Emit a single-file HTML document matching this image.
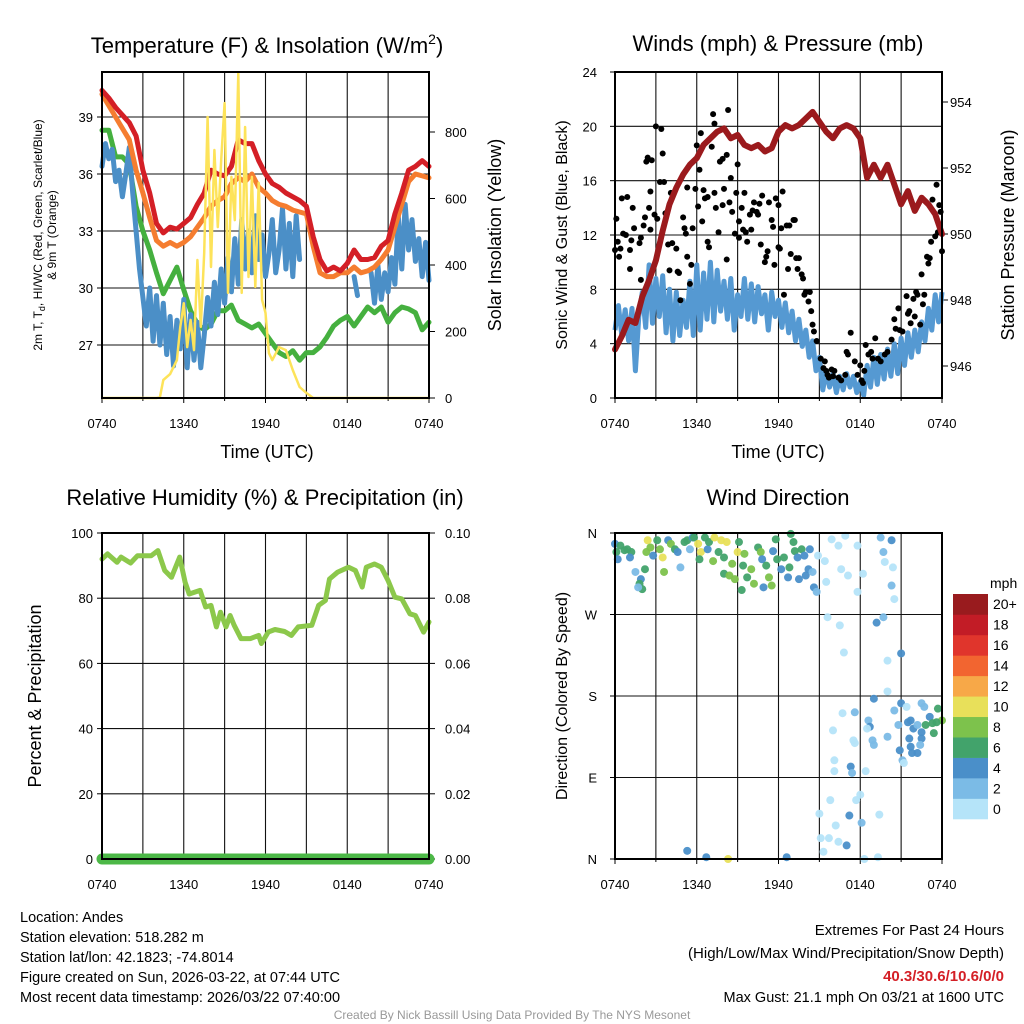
<!DOCTYPE html>
<html><head><meta charset="utf-8"><style>
html,body{margin:0;padding:0;background:#fff;}
svg{display:block;font-family:"Liberation Sans",Arial,sans-serif;}
</style></head><body>
<svg id="fig" width="1024" height="1024" viewBox="0 0 1024 1024"></svg>
<script>
// ---------- DATA ----------
const xTickLabels = ["0740","1340","1940","0140","0740"];
const tempHours = [0,0.5,1,1.5,2,2.5,3,3.5,4,4.5,5,5.5,6,6.5,7,7.5,8,8.5,9,9.5,10,10.5,11,11.5,12,12.5,13,13.5,14,14.5,15,15.5,16,16.5,17,17.5,18,18.5,19,19.5,20,20.5,21,21.5,22,22.5,23,23.5,24];
const tempRed = [40.4,40.0,39.5,39.1,38.7,38.0,36.2,35.0,33.4,32.9,33.2,33.1,33.4,33.7,34.4,35.0,36.2,36.0,35.9,36.4,37.8,37.6,37.6,36.7,36.0,35.5,35.3,35.0,34.8,34.6,34.3,32.7,31.5,30.9,31.1,30.9,31.3,32.0,31.5,31.5,31.6,32.2,32.5,33.9,35.0,36.2,36.4,36.7,36.4];
const tempOrange = [40.2,39.6,39.0,38.4,37.8,36.2,35.0,33.7,32.5,32.2,32.4,32.2,32.4,32.7,33.2,33.7,34.3,34.6,34.8,35.5,35.8,35.6,36.0,35.3,35.0,34.6,34.4,34.3,34.1,34.0,33.9,32.2,30.8,30.6,30.6,30.8,30.8,31.1,30.8,30.9,31.1,31.5,32.0,33.2,34.4,35.6,36.0,35.9,35.8];
const tempGreen = [38.3,38.3,36.9,36.9,36.5,34.3,33.0,32.0,30.8,29.7,30.4,31.1,29.9,28.8,28.1,27.8,28.1,28.8,28.8,29.1,28.3,28.1,27.9,28.1,27.6,27.1,26.6,26.4,26.7,26.2,26.6,26.6,26.9,27.4,28.0,28.3,28.5,28.0,28.5,29.0,28.7,29.0,28.2,28.7,29.0,28.9,28.7,27.8,28.2];
const quarterHours = [0,0.25,0.5,0.75,1,1.25,1.5,1.75,2,2.25,2.5,2.75,3,3.25,3.5,3.75,4,4.25,4.5,4.75,5,5.25,5.5,5.75,6,6.25,6.5,6.75,7,7.25,7.5,7.75,8,8.25,8.5,8.75,9,9.25,9.5,9.75,10,10.25,10.5,10.75,11,11.25,11.5,11.75,12,12.25,12.5,12.75,13,13.25,13.5,13.75,14,14.25,14.5,14.75,15,15.25,15.5,15.75,16,16.25,16.5,16.75,17,17.25,17.5,17.75,18,18.25,18.5,18.75,19,19.25,19.5,19.75,20,20.25,20.5,20.75,21,21.25,21.5,21.75,22,22.25,22.5,22.75,23,23.25,23.5,23.75,24];
const tempBlue = [36.4,37.6,36.8,37.3,35.6,36.2,34.8,36.0,37.4,35.0,33.0,31.0,29.5,28.0,30.0,27.2,29.6,27.0,29.2,26.5,28.5,25.9,28.3,26.8,29.4,25.8,28.6,26.2,28.2,25.8,27.5,29.5,28.0,30.3,28.6,31.0,29.2,31.6,29.8,32.6,30.2,33.6,31.0,33.0,30.8,33.8,31.5,32.8,30.6,31.8,33.6,30.8,32.0,34.2,31.0,33.4,30.6,33.8,31.5,null,null,null,null,null,null,null,null,null,null,null,null,null,null,null,30.6,29.6,null,null,null,30.8,29.2,31.2,29.4,30.8,29.8,31.6,30.2,33.8,31.0,34.4,32.0,33.6,31.4,32.6,30.6,32.4,30.4];
const solarHours = [0,4,4.25,4.5,5,5.5,5.75,6,6.25,6.5,6.75,7,7.25,7.5,7.75,8,8.25,8.5,8.75,9,9.25,9.5,9.75,10,10.25,10.5,10.75,11,11.25,11.5,11.75,12,12.25,12.5,13,13.5,14,14.5,15,15.5,24];
const solarValues = [0,0,2,54,72,114,214,285,153,235,144,415,214,436,845,394,746,514,716,887,316,665,535,977,316,815,364,665,334,647,295,256,135,114,153,144,84,33,15,0,0];
const p1LeftTicks = [27,30,33,36,39];
const p1RightTicks = [0,200,400,600,800];

const windHours = tempHours;
const sonicWind = [5.0,6.8,4.6,6.5,4.2,6.6,2.0,6.0,7.8,5.2,9.8,5.5,8.8,6.0,9.0,4.8,8.0,4.2,7.8,4.6,7.2,5.2,8.6,4.6,9.8,5.0,9.2,5.8,10.0,5.6,9.4,6.4,8.6,5.8,8.8,5.0,7.6,6.0,8.8,5.8,8.4,5.6,8.2,6.2,7.6,5.0,7.8,6.0,7.2,5.2,7.0,4.8,6.4,4.2,5.8,3.8,5.0,3.0,4.2,2.0,3.0,0.6,2.0,0.8,1.8,0.4,1.6,0.6,1.8,0.8,1.6,0.4,1.2,0.2,2.4,0.8,3.0,1.0,3.2,1.4,3.6,1.6,4.0,1.8,4.4,2.4,4.8,3.0,5.0,3.4,5.6,4.2,6.6,5.0,7.6,5.6,7.8];
const pressure = [946.5,946.9,947.4,947.3,948.1,948.6,949.2,950.1,950.9,951.4,951.8,952.1,952.3,952.7,952.9,953.1,953.2,952.9,953.0,952.7,952.6,952.7,952.5,952.6,953.1,953.3,953.2,953.3,953.5,953.7,953.4,953.1,952.9,953.2,953.3,953.2,952.9,951.7,952.1,951.7,952.1,951.5,950.9,951.3,950.7,951.1,950.9,950.6,950.0];
const gustHours = [0.0,0.1,0.2,0.3,0.4,0.5,0.9,0.6,0.8,1.1,1.2,1.1,1.3,1.4,1.8,1.9,1.9,2.1,2.2,2.3,2.4,2.6,2.6,2.7,2.5,2.9,3.0,3.1,3.3,3.4,3.5,3.6,3.7,3.9,4.0,4.1,4.2,4.5,4.6,4.7,4.8,5.0,5.1,5.2,5.3,5.3,5.5,5.6,5.7,5.9,6.0,6.1,6.2,6.3,6.4,6.5,6.6,6.8,6.8,6.9,7.1,7.2,7.3,7.3,7.4,7.6,7.7,7.9,7.9,8.0,8.2,8.2,8.3,8.4,8.5,8.6,8.8,8.9,9.0,9.1,9.1,9.3,9.4,9.5,9.6,9.7,9.9,10.0,10.1,10.2,10.4,10.5,10.6,10.7,10.8,11.0,11.1,11.2,11.3,11.5,11.6,11.7,11.8,12.0,12.0,12.1,12.2,12.3,12.4,12.6,12.7,12.8,12.9,13.1,13.2,13.3,13.4,13.5,13.7,13.8,13.9,14.0,14.2,14.3,14.4,14.5,14.6,14.8,15.1,15.3,15.4,15.5,15.6,15.7,15.9,16.0,16.1,16.4,16.6,16.9,17.0,17.1,17.3,17.6,17.8,18.0,18.1,18.2,18.3,18.4,18.6,18.8,18.9,19.1,19.3,19.5,19.8,20.0,20.3,20.5,20.6,20.8,20.9,21.1,21.4,21.5,21.6,21.7,21.9,22.0,22.1,22.2,22.4,22.5,22.6,22.7,22.9,23.0,23.1,23.2,23.3,23.5,23.6,23.7,23.8,23.9,24.0];
const gustValues = [10.9,13.2,11.5,10.4,11.0,14.7,14.8,12.1,12.0,10.9,11.6,9.5,14.0,12.5,11.4,11.8,8.7,12.7,13.3,17.4,17.7,12.4,15.2,17.5,14.0,13.5,20.0,13.2,15.9,19.8,18.0,15.9,13.6,11.3,9.4,15.1,11.4,11.0,9.3,9.2,7.2,13.3,12.5,12.1,10.4,15.5,8.4,9.8,12.5,15.4,18.6,14.1,16.8,19.5,13.0,15.3,14.7,11.5,14.8,11.1,18.5,20.9,15.1,20.2,14.0,12.2,17.4,17.6,14.2,15.4,17.9,10.2,21.2,14.4,16.2,13.7,12.1,15.1,17.2,11.8,13.0,14.0,12.4,15.1,12.2,11.5,13.5,12.4,13.8,14.4,13.7,13.5,14.3,11.3,14.9,10.0,10.4,10.8,14.4,13.1,12.6,9.8,14.7,14.2,11.1,11.0,12.5,15.2,7.6,12.7,9.5,12.7,10.6,13.1,13.1,10.3,9.5,10.3,9.1,8.8,7.6,7.8,7.1,7.8,6.4,5.4,4.9,4.2,2.9,2.2,2.7,2.0,1.7,1.5,2.1,1.6,2.0,1.5,1.3,1.7,3.4,3.2,4.8,2.7,1.7,2.4,1.3,1.1,2.0,3.9,3.2,3.4,2.9,4.4,2.9,2.7,3.2,3.4,4.3,5.8,5.1,6.6,5.0,4.9,7.5,6.2,6.4,5.5,7.3,6.0,7.8,7.6,5.4,9.1,6.9,7.6,10.4,9.9,10.3,11.5,14.6,11.9,15.7,12.2,14.2,13.7,10.8];
const p2LeftTicks = [0,4,8,12,16,20,24];
const p2RightTicks = [946,948,950,952,954];

const rhHours = [0.0,0.4,1.1,1.4,2.1,2.6,3.6,4.1,4.6,5.1,5.7,6.1,6.4,7.2,7.6,8.0,8.4,8.7,9.1,9.4,9.7,10.2,10.9,11.5,11.7,12.2,12.7,13.4,13.9,14.4,15.4,15.9,16.4,16.7,17.3,18.1,18.6,19.1,19.4,20.0,20.5,21.0,21.5,22.0,22.6,23.0,23.6,24.0];
const rhValues = [92.0,93.6,91.0,92.6,90.8,93.0,93.0,94.6,88.5,86.4,92.6,84.9,81.3,82.4,77.3,77.8,71.2,75.7,71.2,74.7,71.7,67.6,67.6,68.6,66.1,69.6,70.4,69.8,68.6,71.2,71.7,77.8,79.3,85.9,88.0,89.5,88.5,83.4,89.5,90.5,89.5,85.4,80.3,79.8,75.2,74.7,69.6,72.7];
const precipHours = [0,24];
const precipValues = [0,0];
const p3LeftTicks = [0,20,40,60,80,100];
const p3RightTicks = ["0.00","0.02","0.04","0.06","0.08","0.10"];

const dirHours = [0,0.1,0.2,0.4,0.7,0.9,1.2,1.1,1.5,1.9,1.8,2.0,1.7,2.2,2.3,2.4,2.6,2.8,3.1,3.3,3.5,3.6,3.9,4.1,4.4,4.6,4.8,5.1,5.3,5.5,5.7,5.8,6.1,6.3,6.2,6.6,6.8,6.9,7.2,7.3,7.6,7.8,8.0,8.0,8.2,8.4,8.6,8.8,9.0,9.1,9.3,9.5,9.4,9.7,10.0,10.2,10.5,10.7,10.8,10.9,11.1,11.3,11.5,11.6,11.8,11.9,12.2,12.4,12.7,12.8,12.9,13.1,13.2,13.4,13.5,13.7,13.9,14.2,14.3,14.0,14.5,14.6,14.8,14.9,15.4,15.5,15.9,16.4,16.6,16.9,17.1,17.8,17.8,18.2,19.5,19.7,19.8,20.3,20.4,20.3,20.5,15.6,16.5,19.2,19.7,16.8,20.0,21.0,20.0,19.0,21.0,21.4,22.5,22.7,23.7,24.0,16.7,17.6,18.6,18.7,18.5,20.5,20.8,21.5,21.7,21.9,22.2,22.5,22.8,23.1,23.3,23.6,23.4,22.5,21.6,21.7,20.9,21.8,22.2,22.4,20.0,18.9,19.0,17.5,17.6,16.0,21.1,21.2,16.1,16.1,17.3,17.4,18.4,15.8,17.7,18.0,15.0,17.2,19.4,16.2,18.1,15.1,15.7,16.4,17.0,15.3,18.3,19.3,5.3,6.7,8.3,12.6];
const dirDegrees = [348,339,331,346,341,342,339,333,317,309,304,298,300,320,339,352,344,335,352,342,333,317,352,348,342,339,322,350,352,342,355,355,348,339,331,355,342,350,329,355,339,352,315,333,350,313,326,309,339,350,297,337,324,311,320,304,344,339,331,300,324,311,302,340,353,331,320,333,311,322,359,350,340,333,309,342,335,320,342,313,317,300,295,335,329,306,353,346,320,357,313,346,295,315,355,339,328,352,322,302,287,267,258,261,267,228,219,227,185,177,172,168,172,168,166,153,161,162,153,146,144,164,148,151,153,144,148,140,148,157,150,151,139,133,133,124,120,117,117,126,135,131,126,131,128,142,109,106,109,97,102,95,97,65,65,71,50,48,49,37,40,23,23,19,15,8,0,2,9,2,0,2];
const dirSpeeds = [4,6,4,6,6,6,6,4,2,4,6,6,2,6,8,10,8,4,6,8,10,8,4,8,6,4,2,6,6,2,4,6,10,10,6,6,4,6,8,10,6,10,6,6,10,8,8,8,10,6,6,8,6,6,8,8,6,8,4,4,6,8,8,4,6,6,4,6,4,6,6,6,6,4,4,6,4,4,4,4,2,4,2,0,0,0,0,0,0,0,0,0,0,0,2,2,0,4,0,2,0,0,0,4,2,0,0,4,0,4,4,0,2,2,6,8,0,2,2,4,0,2,2,4,4,4,2,4,6,4,6,6,6,4,4,4,4,4,4,2,2,2,2,0,0,0,2,0,0,0,4,2,0,0,0,0,0,4,0,0,2,0,0,0,4,0,0,0,4,4,10,4];
const dirTickLabels = ["N","E","S","W","N"];
const speedBins = ["0","2","4","6","8","10","12","14","16","18","20+"];
const speedColors = ["#b5e4f9","#7bbbe6","#4a8fc9","#42a36b","#7dc24c","#e8e05a","#f7a848","#f26530","#e0352c","#c21c26","#991b1e"];

// ---------- HELPERS ----------
const NS="http://www.w3.org/2000/svg";
const svg=document.getElementById('fig');
function el(tag,attrs,parent,text){const e=document.createElementNS(NS,tag);for(const k in attrs)e.setAttribute(k,attrs[k]);if(text!==undefined)e.textContent=text;(parent||svg).appendChild(e);return e;}
function lin(d0,d1,r0,r1){return v=>r0+(v-d0)*(r1-r0)/(d1-d0);}
function pathFrom(xs,ys,fx,fy){let d='',pen=false;for(let i=0;i<xs.length;i++){if(ys[i]===null||ys[i]===undefined){pen=false;continue;}d+=(pen?'L':'M')+fx(xs[i]).toFixed(1)+','+fy(ys[i]).toFixed(1);pen=true;}return d;}

function frame(g,x0,y0,x1,y1,nHLines,fy,hVals){
  const fx=lin(0,24,x0,x1);
  for(let i=1;i<8;i++){const x=fx(i*3);const l=el('line',{x1:x,y1:y0,x2:x,y2:y1,stroke:'#111','stroke-width':1.1},g);
    
    }
  hVals.forEach(v=>{const y=fy(v);const l=el('line',{x1:x0,y1:y,x2:x1,y2:y,stroke:'#111','stroke-width':1.1},g);
    
    });
  xTickLabels.forEach((t,i)=>{const x=fx(i*6);const tx=el('text',{x:x,y:y1+30,'font-size':13,'text-anchor':'middle',fill:'#000'},g,t);
    
    
    el('line',{x1:x,y1:y1,x2:x,y2:y1+5,stroke:'#000','stroke-width':1},g);});
  for(let i=1;i<8;i+=2){const x=fx(i*3);el('line',{x1:x,y1:y1,x2:x,y2:y1+3,stroke:'#000'},g);}
  return fx;
}
function border(g,x0,y0,x1,y1){const r=el('rect',{x:x0,y:y0,width:x1-x0,height:y1-y0,fill:'none',stroke:'#000','stroke-width':2},g);
  
  }
function txt(g,x,y,s,size,name,extra){const t=el('text',Object.assign({x:x,y:y,'font-size':size,fill:'#000'},extra||{}),g,s);
  
  return t;}

// ---------- PANEL 1 ----------
(function(){
  const X0=102,X1=429,Y0=72,Y1=398;
  const g=el('g',{});
  
  
  const fy=lin(27,39,345,117);
  const fs=lin(0,800,398,132);
  const fx=frame(g,X0,Y0,X1,Y1,0,fy,p1LeftTicks);
  p1LeftTicks.forEach(v=>{txt(g,93,fy(v)+5,String(v),13,'left-tick-label',{'text-anchor':'end'});el('line',{x1:X0-5,y1:fy(v),x2:X0,y2:fy(v),stroke:'#000'},g);});
  p1RightTicks.forEach(v=>{txt(g,445,fs(v)+5,String(v),13,'right-tick-label');el('line',{x1:X1,y1:fs(v),x2:X1+6,y2:fs(v),stroke:'#000'},g);});
  const series=[[tempHours,tempGreen,'#45b03f',5,'dewpoint-line'],[quarterHours,tempBlue,'#4b8fc7',5,'heat-index-windchill-line'],[tempHours,tempOrange,'#f57d30',5,'temp-9m-line'],[tempHours,tempRed,'#d41f26',5,'temp-2m-line']];
  series.forEach(s=>{const p=el('path',{d:pathFrom(s[0],s[1],fx,fy),fill:'none',stroke:s[2],'stroke-width':s[3],'stroke-linejoin':'round','stroke-linecap':'round'},g);
    
    });
  const pr2=el('path',{d:pathFrom(solarHours,solarValues,fx,fs),fill:'none',stroke:'#fde35a','stroke-width':2.5,'stroke-linejoin':'round'},g);
  
  
  border(g,X0,Y0,X1,Y1);
  const t=txt(g,267,53,'',22,'temperature-panel-title',{'text-anchor':'middle'});
  t.innerHTML='Temperature (F) &amp; Insolation (W/m<tspan font-size="14" dy="-9">2</tspan><tspan dy="9">)</tspan>';
  txt(g,267,458,'Time (UTC)',18,'x-axis-title',{'text-anchor':'middle'});
  const yl=txt(g,0,0,'',12,'left-axis-title',{'text-anchor':'middle',transform:'translate(42,235) rotate(-90)'});
  yl.innerHTML='2m T, T<tspan font-size="9" dy="3">d</tspan><tspan dy="-3">, HI/WC (Red, Green, Scarlet/Blue)</tspan>';
  txt(g,0,0,'& 9m T (Orange)',12,'left-axis-title-line2',{'text-anchor':'middle',transform:'translate(56,235) rotate(-90)'});
  txt(g,0,0,'Solar Insolation (Yellow)',18,'right-axis-title',{'text-anchor':'middle',transform:'translate(501,235) rotate(-90)'});
})();

// ---------- PANEL 2 ----------
(function(){
  const X0=615,X1=942,Y0=72,Y1=398;
  const g=el('g',{});
  
  
  const fy=lin(0,24,398,72);
  const fp=lin(946,954,366,102);
  const fx=frame(g,X0,Y0,X1,Y1,0,fy,[4,8,12,16,20]);
  p2LeftTicks.forEach(v=>{txt(g,597,fy(v)+5,String(v),13,'left-tick-label',{'text-anchor':'end'});el('line',{x1:X0-5,y1:fy(v),x2:X0,y2:fy(v),stroke:'#000'},g);});
  p2RightTicks.forEach(v=>{txt(g,950,fp(v)+5,String(v),13,'right-tick-label');el('line',{x1:X1,y1:fp(v),x2:X1+6,y2:fp(v),stroke:'#000'},g);});
  const w=el('path',{d:pathFrom(quarterHours,sonicWind,fx,fy),fill:'none',stroke:'#5599d2','stroke-width':5,'stroke-linejoin':'round'},g);
  
  
  gustHours.forEach((h,i)=>{const c=el('circle',{cx:fx(h),cy:fy(gustValues[i]),r:3,fill:'#000'},g);
    
    });
  const p=el('path',{d:pathFrom(windHours,pressure,fx,fp),fill:'none',stroke:'#9b1a1d','stroke-width':6,'stroke-linejoin':'round','stroke-linecap':'round'},g);
  
  
  border(g,X0,Y0,X1,Y1);
  txt(g,778,51,'Winds (mph) & Pressure (mb)',22,'winds-panel-title',{'text-anchor':'middle'});
  txt(g,778,458,'Time (UTC)',18,'x-axis-title',{'text-anchor':'middle'});
  txt(g,0,0,'Sonic Wind & Gust (Blue, Black)',16,'left-axis-title',{'text-anchor':'middle',transform:'translate(567,235) rotate(-90)'});
  txt(g,0,0,'Station Pressure (Maroon)',18,'right-axis-title',{'text-anchor':'middle',transform:'translate(1014,235) rotate(-90)'});
})();

// ---------- PANEL 3 ----------
(function(){
  const X0=102,X1=429,Y0=533,Y1=859;
  const g=el('g',{});
  
  
  const fy=lin(0,100,859,533);
  const fx=frame(g,X0,Y0,X1,Y1,0,fy,[20,40,60,80]);
  p3LeftTicks.forEach(v=>{txt(g,93,fy(v)+5,String(v),13,'left-tick-label',{'text-anchor':'end'});el('line',{x1:X0-5,y1:fy(v),x2:X0,y2:fy(v),stroke:'#000'},g);});
  p3RightTicks.forEach((s,i)=>{const y=fy(i*20);txt(g,445,y+5,s,13,'right-tick-label');el('line',{x1:X1,y1:y,x2:X1+6,y2:y,stroke:'#000'},g);});
  const fpr=lin(0,0.1,859,533);
  const pp=el('path',{d:pathFrom(precipHours,precipValues,fx,fpr),fill:'none',stroke:'#4cb847','stroke-width':11,'stroke-linecap':'round'},g);
  
  
  const rh=el('path',{d:pathFrom(rhHours,rhValues,fx,fy),fill:'none',stroke:'#8cc84b','stroke-width':5,'stroke-linejoin':'round','stroke-linecap':'round'},g);
  
  
  border(g,X0,Y0,X1,Y1);
  txt(g,265,505,'Relative Humidity (%) & Precipitation (in)',22,'humidity-panel-title',{'text-anchor':'middle'});
  txt(g,0,0,'Percent & Precipitation',18,'left-axis-title',{'text-anchor':'middle',transform:'translate(41,696) rotate(-90)'});
})();

// ---------- PANEL 4 ----------
(function(){
  const X0=615,X1=942,Y0=533,Y1=859;
  const g=el('g',{});
  
  
  const fy=lin(0,360,859,533);
  const fx=frame(g,X0,Y0,X1,Y1,0,fy,[90,180,270]);
  dirTickLabels.forEach((s,i)=>{const y=fy(i*90);txt(g,597,y+5,s,13,'direction-tick-label',{'text-anchor':'end'});el('line',{x1:X0-5,y1:y,x2:X0,y2:y,stroke:'#000'},g);});
  dirHours.forEach((h,i)=>{const c=el('circle',{cx:fx(h),cy:fy(dirDegrees[i]),r:4,fill:speedColors[Math.min(10,Math.round(dirSpeeds[i]/2))],'fill-opacity':0.95},g);
    
    });
  border(g,X0,Y0,X1,Y1);
  txt(g,778,505,'Wind Direction',22,'wind-direction-title',{'text-anchor':'middle'});
  txt(g,0,0,'Direction (Colored By Speed)',16,'left-axis-title',{'text-anchor':'middle',transform:'translate(567,696) rotate(-90)'});
  const cb=el('g',{},g);
  
  
  const bh=225/11;
  speedBins.forEach((s,i)=>{const y=819-(i+1)*bh;
    const r=el('rect',{x:953,y:y,width:35,height:bh+0.3,fill:speedColors[i]},cb);
    
    
    txt(cb,993,y+bh/2+5,s,14,'colorbar-label');});
  txt(cb,990,588,'mph',14,'colorbar-unit');
})();

// ---------- FOOTER TEXT ----------
(function(){
  const g=el('g',{});
  
  
  const lines=['Location: Andes','Station elevation: 518.282 m','Station lat/lon: 42.1823; -74.8014','Figure created on Sun, 2026-03-22, at 07:44 UTC','Most recent data timestamp: 2026/03/22 07:40:00'];
  lines.forEach((s,i)=>txt(g,20,922+i*20,s,14.5,'station-info-line'));
  const r=el('g',{});
  
  
  txt(r,1004,935,'Extremes For Past 24 Hours',15,'extremes-title',{'text-anchor':'end'});
  txt(r,1004,958,'(High/Low/Max Wind/Precipitation/Snow Depth)',15,'extremes-subtitle',{'text-anchor':'end'});
  txt(r,1004,981,'40.3/30.6/10.6/0/0',15,'extremes-values',{'text-anchor':'end',fill:'#d41f26','font-weight':'bold'});
  txt(r,1004,1002,'Max Gust: 21.1 mph On 03/21 at 1600 UTC',14.5,'max-gust',{'text-anchor':'end'});
  txt(svg,512,1019,'Created By Nick Bassill Using Data Provided By The NYS Mesonet',12,'credit-footer',{'text-anchor':'middle',fill:'#999'});
})();
</script>
</body></html>
